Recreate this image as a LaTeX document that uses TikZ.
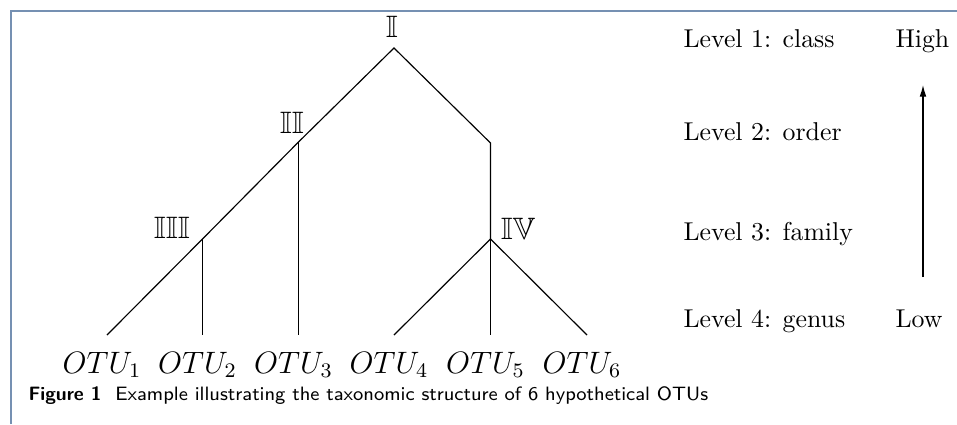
\documentclass[tikz,border=0pt]{standalone}
\usepackage{amsmath,amssymb}
\usetikzlibrary{arrows.meta}
\definecolor{frameline}{HTML}{7590B2}
\tikzset{
  branch/.style={line width=0.45pt},
  rank/.style={anchor=base, inner sep=0pt, font=\large},
  level/.style={anchor=base west, inner sep=0pt},
  otu/.style={anchor=base, inner sep=0pt, font=\large},
  trend/.style={-{Latex[length=4.5pt,width=2.6pt]}, line width=0.45pt},
  border/.style={line width=0.8pt, draw=frameline},
  caption/.style={anchor=base west, inner sep=0pt,
    font=\sffamily\fontsize{7.5}{9}\selectfont},
}

\begin{document}
\begin{tikzpicture}[x=0.01362cm, y=-0.01362cm]
\useasboundingbox (0,0) rectangle (957,424);
\draw[border] (11,424) -- (11,11) -- (957,11);

%% ---- tree --------------------------------------------------------------
\coordinate (root) at (394,48);
\coordinate (II) at (298.5,142);
\coordinate (bend) at (490.5,143);
\coordinate (III) at (202.5,239);
\coordinate (IV) at (490.5,239);
\foreach \x [count=\i] in {107,202.5,298.5,394,490.5,587}
  \coordinate (leaf\i) at (\x,335);

\draw[branch] (leaf1) -- (III) -- (II) -- (root) -- (bend) -- (IV);
\draw[branch] (III) -- (leaf2);
\draw[branch] (II) -- (leaf3);
\foreach \i in {4,5,6}
  \draw[branch] (IV) -- (leaf\i);

% rank labels sit next to their branch points
\node[rank] (lI) at (392,37) {$\mathbb{I}$};
\node[rank] (lII) at (292,133) {$\mathbb{II}$};
\node[rank] (lIII) at (172,238) {$\mathbb{III}$};
\node[rank] (lIV) at (518,239) {$\mathbb{IV}$};

\foreach \i in {1,...,6}
  \node[otu, xshift=-5*0.01362cm] (otu\i) at (leaf\i |- 0,373) {$OTU_\i$};

%% ---- levels ------------------------------------------------------------
\foreach \t/\y [count=\i] in {class/47, order/140, family/240, genus/327}
  \node[level] (level\i) at (683,\y) {Level \i: \t};
\node[level] (high) at (895,47) {High};
\node[level] (low) at (895,327) {Low};
\coordinate (up0) at (923,277);
\coordinate (up1) at (923,85);
\draw[trend] (up0) -- (up1);

%% ---- caption -----------------------------------------------------------
\node[caption] (cap) at (28,400)
  {\textbf{Figure 1}\ \ Example illustrating the taxonomic structure of 6 hypothetical OTUs};

\end{tikzpicture}
\end{document}
